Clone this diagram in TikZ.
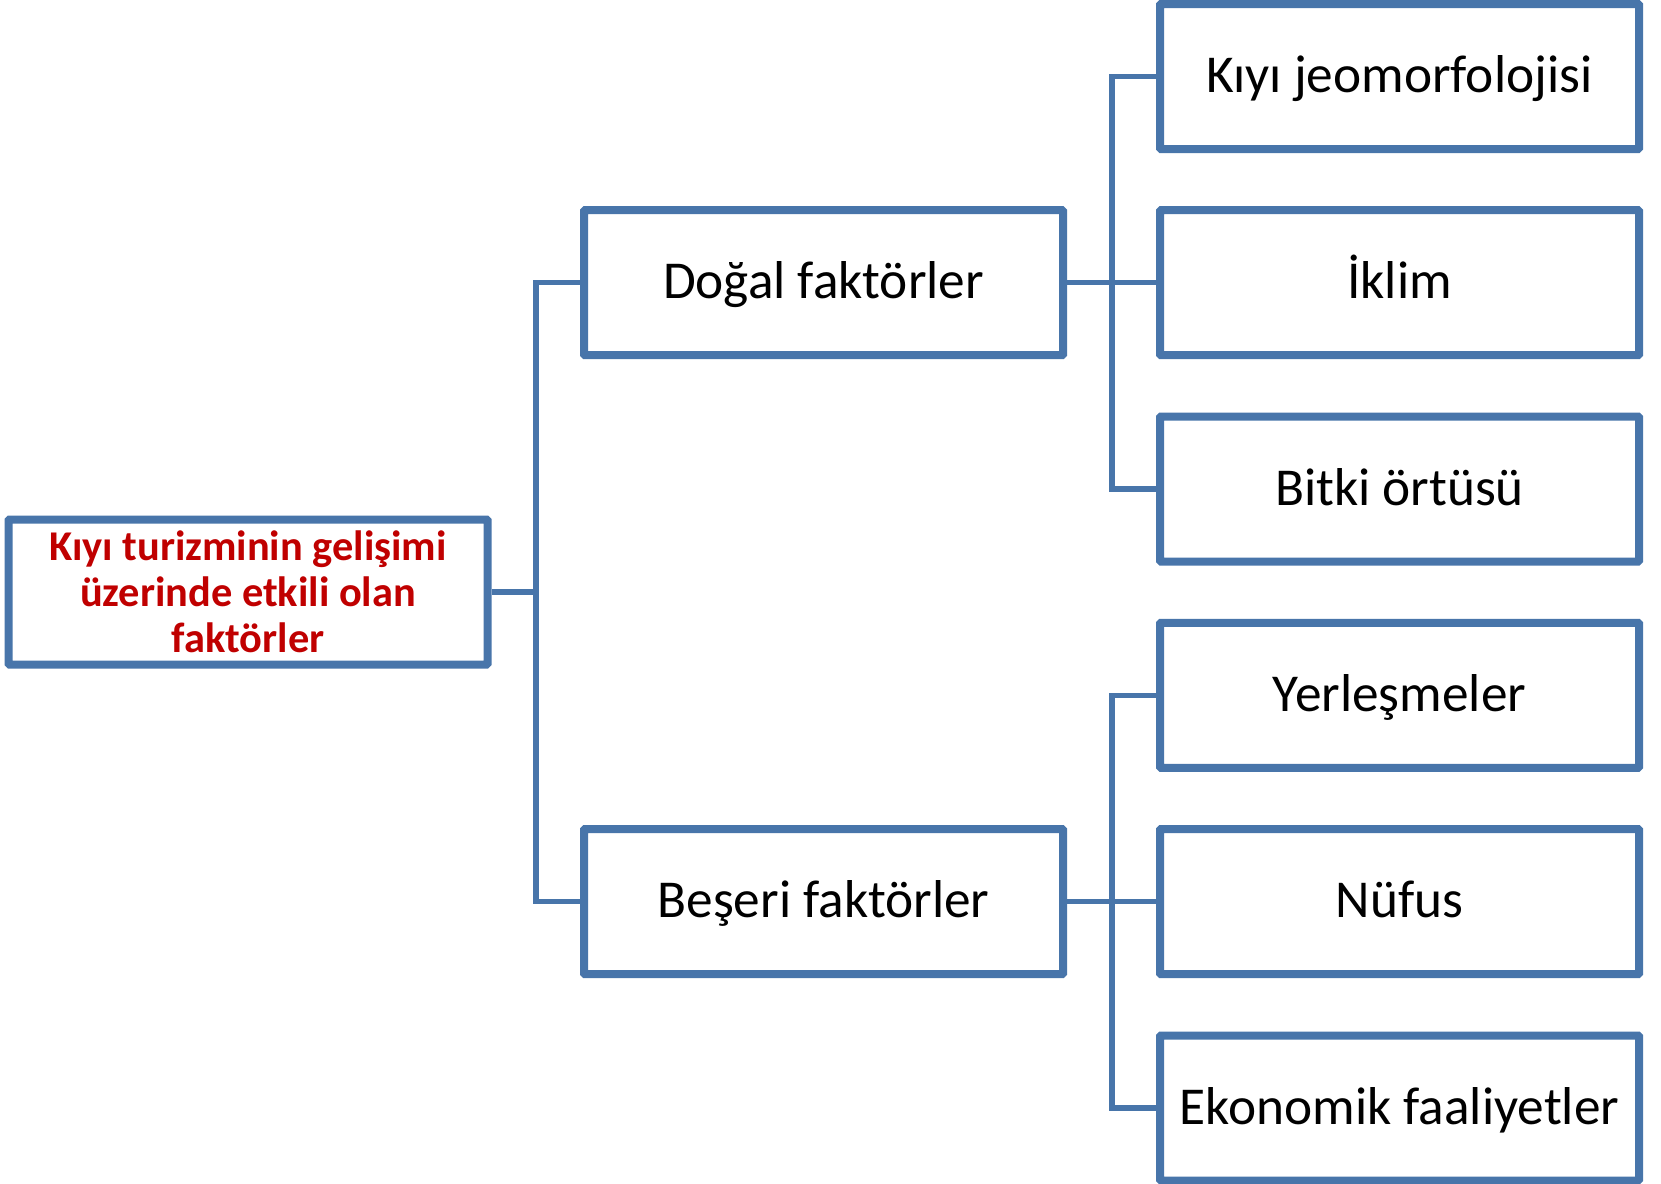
\documentclass[tikz,border=0pt]{standalone}
\usepackage{fontspec}
\setmainfont{Carlito}
\usetikzlibrary{shadows}
\definecolor{boxblue}{RGB}{72,117,170}
\definecolor{rootred}{RGB}{192,0,0}
\tikzset{
  box/.style={draw=boxblue, line width=8pt, fill=white, rounded corners=1pt,
    minimum width=479pt, minimum height=145pt, inner sep=0pt, align=center,
    drop shadow={opacity=0.3, shadow xshift=2pt, shadow yshift=-3pt},
    font=\fontsize{53.3}{60}\selectfont},
  leaf/.style={box, text height=40pt, text depth=8pt},
  rootbox/.style={box, text=rootred, font=\fontsize{42.4}{46}\selectfont\bfseries},
  conn/.style={draw=boxblue, line width=5.3pt}
}
\begin{document}
\begin{tikzpicture}[x=1pt,y=-1pt]
\useasboundingbox (0,0) rectangle (1661,1183);
\node[rootbox] (root) at (248,592) {Kıyı turizminin gelişimi\\üzerinde etkili olan\\faktörler};
\node[leaf] (dogal) at (823.5,282.7) {Doğal faktörler};
\node[leaf] (beseri) at (823.5,901.6) {Beşeri faktörler};
\node[leaf] (k1) at (1399.5,76.5) {Kıyı jeomorfolojisi};
\node[leaf] (k2) at (1399.5,282.7) {İklim};
\node[leaf] (k3) at (1399.5,489) {Bitki örtüsü};
\node[leaf] (b1) at (1399.5,695.3) {Yerleşmeler};
\node[leaf] (b2) at (1399.5,901.6) {Nüfus};
\node[leaf] (b3) at (1399.5,1108) {Ekonomik faaliyetler};
\draw[conn] (dogal.west) -- ++(-44,0) |- (root.east);
\draw[conn] (beseri.west) -- ++(-44,0) |- (root.east);
\draw[conn] (k1.west) -- ++(-44,0) |- (dogal.east);
\draw[conn] (k2.west) -- (dogal.east);
\draw[conn] (k3.west) -- ++(-44,0) |- (dogal.east);
\draw[conn] (b1.west) -- ++(-44,0) |- (beseri.east);
\draw[conn] (b2.west) -- (beseri.east);
\draw[conn] (b3.west) -- ++(-44,0) |- (beseri.east);
\end{tikzpicture}
\end{document}
